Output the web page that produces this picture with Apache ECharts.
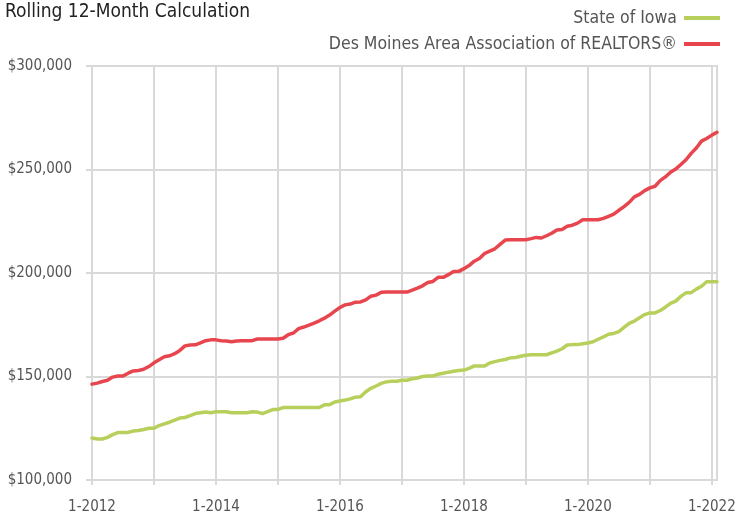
<!DOCTYPE html>
<html>
<head>
<meta charset="utf-8">
<script src="https://cdn.jsdelivr.net/npm/echarts@6/dist/echarts.min.js"></script>
<style>
html,body{margin:0;padding:0;background:#fff;}
#chart{width:736px;height:515px;}
</style>
</head>
<body>
<div id="chart"></div>
<script>
// Monthly categories 1-2012 .. 2-2022
const startYear = 2012;
const monthCount = 122;
const categories = [];
for (let i = 0; i < monthCount; i++) {
  categories.push(((i % 12) + 1) + '-' + (startYear + Math.floor(i / 12)));
}

// Rolling 12-month median sales price, in thousands of dollars
const stateOfIowa = [
  120.3, 119.8, 119.8, 120.6, 121.9, 122.9, 123.0, 123.0, 123.7, 123.9, 124.4, 125.0,
  125.0, 126.3, 127.1, 127.9, 128.9, 129.9, 130.2, 131.1, 132.1, 132.5, 132.8, 132.5,
  133.0, 133.0, 133.0, 132.5, 132.5, 132.5, 132.5, 133.0, 132.8, 132.1, 133.0, 134.0,
  134.1, 135.0, 135.0, 135.0, 135.0, 135.0, 135.0, 135.0, 135.0, 136.3, 136.4, 137.7,
  138.2, 138.6, 139.2, 140.0, 140.2, 142.6, 144.3, 145.4, 146.7, 147.4, 147.7, 147.7,
  148.2, 148.2, 148.9, 149.3, 150.0, 150.2, 150.2, 151.1, 151.6, 152.1, 152.5, 152.9,
  153.1, 153.9, 155.1, 155.1, 155.1, 156.5, 157.2, 157.8, 158.2, 159.0, 159.2, 159.8,
  160.3, 160.5, 160.5, 160.5, 160.5, 161.4, 162.3, 163.4, 165.2, 165.4, 165.4, 165.8,
  166.2, 166.8, 168.0, 169.1, 170.4, 170.8, 171.7, 173.7, 175.7, 176.8, 178.4, 179.9,
  180.7, 180.7, 181.9, 183.5, 185.3, 186.4, 188.7, 190.4, 190.5, 192.2, 193.6, 195.8,
  195.8, 195.8
];
const desMoinesArea = [
  146.3, 146.8, 147.6, 148.2, 149.7, 150.2, 150.2, 151.6, 152.7, 152.9, 153.5, 154.8,
  156.6, 158.1, 159.5, 160.0, 161.0, 162.6, 164.8, 165.2, 165.3, 166.3, 167.3, 167.7,
  167.7, 167.3, 167.1, 166.8, 167.1, 167.3, 167.3, 167.3, 168.1, 168.1, 168.1, 168.1,
  168.1, 168.5, 170.2, 171.0, 173.1, 173.9, 174.8, 175.8, 176.9, 178.2, 179.7, 181.6,
  183.3, 184.6, 185.0, 185.9, 186.0, 187.0, 188.8, 189.3, 190.7, 190.8, 190.8, 190.8,
  190.8, 190.8, 191.7, 192.7, 193.8, 195.4, 195.9, 197.9, 197.9, 199.2, 200.7, 200.8,
  202.1, 203.6, 205.7, 207.0, 209.4, 210.6, 211.7, 213.8, 215.9, 216.1, 216.1, 216.1,
  216.1, 216.6, 217.2, 216.9, 218.0, 219.2, 220.8, 221.0, 222.6, 223.1, 224.1, 225.7,
  225.7, 225.7, 225.7, 226.4, 227.4, 228.4, 230.3, 232.1, 234.1, 236.8, 238.0, 239.8,
  241.1, 241.9, 244.6, 246.4, 248.7, 250.2, 252.4, 254.7, 257.8, 260.4, 263.7, 265.0,
  266.6, 268.0
];
const seriesNames = ['State of Iowa', 'Des Moines Area Association of REALTORS®'];
const yTicks = [100, 150, 200, 250, 300];

const FONT = "'DejaVu Sans Condensed', 'Liberation Sans Narrow', sans-serif";
const GRID = '#d9d9d9';

const chart = echarts.init(document.getElementById('chart'), null, {renderer: 'canvas'});
chart.setOption({
  animation: false,
  backgroundColor: '#fff',
  title: {
    text: 'Rolling 12-Month Calculation',
    left: 0, top: -2,
    textStyle: {fontFamily: FONT, fontSize: 19, fontWeight: 'normal', color: '#222'}
  },
  legend: {
    orient: 'vertical',
    right: 11, top: 3,
    align: 'right',
    icon: 'rect',
    itemWidth: 36, itemHeight: 4,
    itemGap: 6,
    textStyle: {fontFamily: FONT, fontSize: 17.5, color: '#555', lineHeight: 20, padding: [0, 2, 0, 0]},
    data: seriesNames
  },
  grid: {
    left: 92, right: 19, top: 66, bottom: 35,
    show: true, borderColor: GRID, borderWidth: 2,
    outerBoundsMode: 'none',
    containLabel: false
  },
  xAxis: {
    type: 'category',
    data: categories,
    boundaryGap: false,
    axisLine: {show: true, lineStyle: {color: GRID, width: 2}},
    axisTick: {show: true, length: 5, interval: (i) => i % 12 === 0, lineStyle: {color: GRID, width: 2}},
    axisLabel: {
      interval: (i) => i % 24 === 0,
      margin: 20,
      fontFamily: FONT, fontSize: 15, color: '#555'
    },
    splitLine: {show: true, interval: (i) => i % 12 === 0, lineStyle: {color: GRID, width: 2}}
  },
  yAxis: {
    type: 'value',
    min: yTicks[0], max: yTicks[yTicks.length - 1], interval: 50,
    axisLine: {show: false},
    axisTick: {show: true, length: 6, lineStyle: {color: GRID, width: 2}},
    axisLabel: {
      margin: 20,
      fontFamily: FONT, fontSize: 15, color: '#555',
      formatter: (v) => '$' + v + ',000'
    },
    splitLine: {show: true, lineStyle: {color: GRID, width: 2}}
  },
  series: [
    {
      name: seriesNames[0], type: 'line', data: stateOfIowa,
      showSymbol: false, symbol: 'none',
      color: '#b7d05c',
      lineStyle: {width: 3.5, color: '#b7d05c', cap: 'round', join: 'round'}
    },
    {
      name: seriesNames[1], type: 'line', data: desMoinesArea,
      showSymbol: false, symbol: 'none',
      color: '#e8464f',
      lineStyle: {width: 3.5, color: '#e8464f', cap: 'round', join: 'round'}
    }
  ]
});
</script>
</body>
</html>
